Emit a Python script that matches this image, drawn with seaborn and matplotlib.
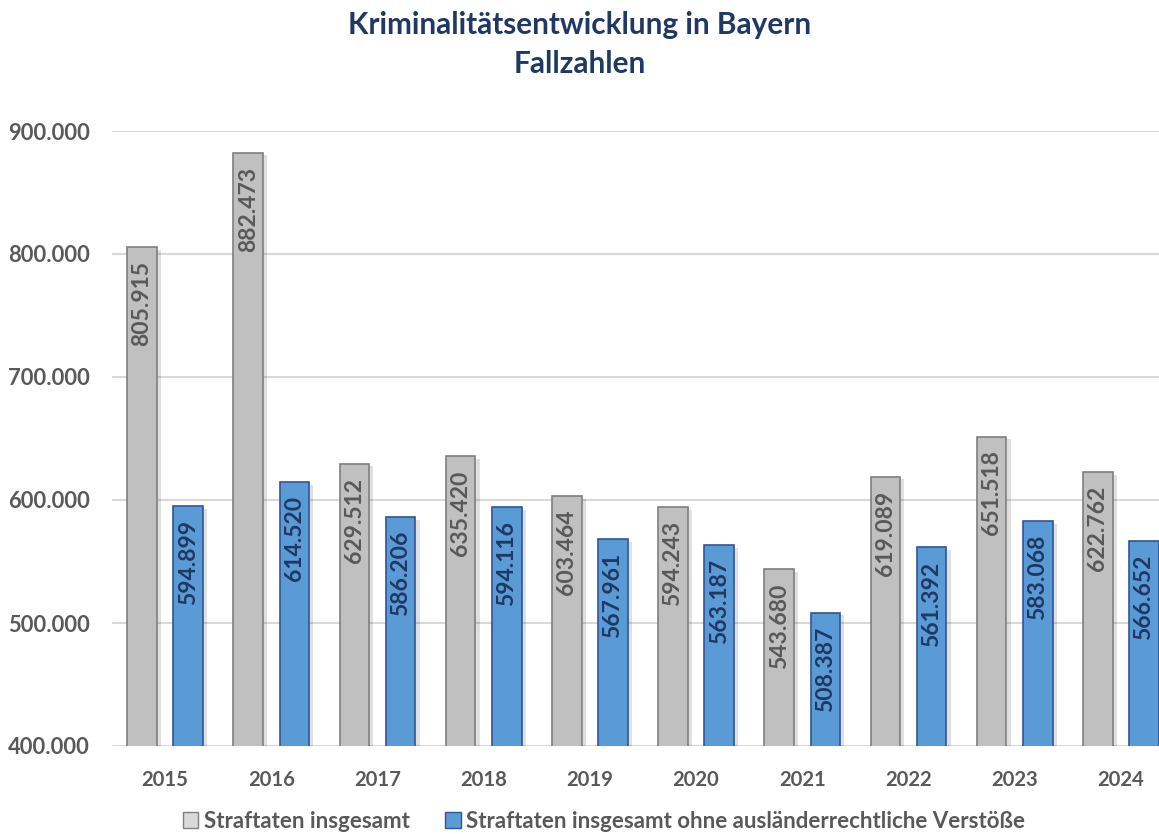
import matplotlib
matplotlib.use("Agg")
import matplotlib.pyplot as plt
import matplotlib.patheffects as pe
import seaborn as sns
import pandas as pd

# Data
jahre = ['2015', '2016', '2017', '2018', '2019', '2020', '2021', '2022', '2023', '2024']
gesamt = [805915, 882473, 629512, 635420, 603464, 594243, 543680, 619089, 651518, 622762]
ohne_auslaender = [594899, 614520, 586206, 594116, 567961, 563187, 508387, 561392, 583068, 566652]
serien = ['Straftaten insgesamt', 'Straftaten insgesamt ohne ausländerrechtliche Verstöße']

df = pd.DataFrame({
    'Jahr': jahre * 2,
    'Fälle': gesamt + ohne_auslaender,
    'Serie': [serien[0]] * len(jahre) + [serien[1]] * len(jahre),
})

sns.set_style("white")
plt.rcParams['font.family'] = ['Lato', 'DejaVu Sans']

fill = {serien[0]: '#c0c0c0', serien[1]: '#5b9bd5'}
edge = {serien[0]: '#7f7f7f', serien[1]: '#2f5597'}
text_col = {serien[0]: '#595959', serien[1]: '#1f3864'}

fig = plt.figure(figsize=(11.59, 8.34), dpi=100)
ax = fig.add_axes([112 / 1159, 1 - 746 / 834, (1174 - 112) / 1159, 615 / 834])

sns.barplot(data=df, x='Jahr', y='Fälle', hue='Serie', palette=fill, saturation=1,
            width=0.87, gap=0.356, ax=ax, legend=False, zorder=3)

ax.set_ylim(400000, 900000)
ax.set_yticks([400000, 500000, 600000, 700000, 800000, 900000])
ax.set_yticklabels([f"{int(v):,}".replace(",", ".") for v in ax.get_yticks()])
ax.grid(axis='y', color='#d9d9d9', linewidth=1.5, zorder=0)
ax.set_axisbelow(True)
sns.despine(ax=ax, left=True, bottom=True)
ax.set_xlabel('')
ax.set_ylabel('')
ax.tick_params(axis='y', length=0, pad=16, labelsize=15.8, labelcolor='#595959')
ax.tick_params(axis='x', length=0, pad=17, labelsize=14.6, labelcolor='#595959')
for lab in ax.get_xticklabels() + ax.get_yticklabels():
    lab.set_fontweight('bold')

shadow = [pe.SimplePatchShadow(offset=(3, -2), shadow_rgbFace='#000000', alpha=0.12), pe.Normal()]
for cont, name, vals in zip(ax.containers, serien, [gesamt, ohne_auslaender]):
    for bar, v in zip(cont, vals):
        bar.set_edgecolor(edge[name])
        bar.set_linewidth(1.2)
        bar.set_path_effects(shadow)
        ax.annotate(f"{v:,}".replace(",", "."),
                    (bar.get_x() + bar.get_width() / 2, bar.get_height()),
                    xytext=(0, -10), textcoords='offset points',
                    rotation=90, ha='center', va='top',
                    fontsize=16.5, fontweight='bold', color=text_col[name], zorder=5)

fig.suptitle('Kriminalitätsentwicklung in Bayern\nFallzahlen', y=0.987,
             fontsize=21.4, fontweight='bold', color='#1f3864', linespacing=1.5)

handles = [plt.Rectangle((0, 0), 1, 1, facecolor=c, edgecolor=edge[s])
           for s, c in zip(serien, ['#d9d9d9', '#5b9bd5'])]
fig.legend(handles, serien, loc='center', bbox_to_anchor=(604 / 1159, 1 - 821 / 834),
           ncol=2, frameon=False, prop={'weight': 'bold', 'size': 16},
           labelcolor='#595959', handlelength=0.7, handleheight=0.7,
           handletextpad=0.25, columnspacing=1.6)

fig.savefig('out.png', dpi=100)
